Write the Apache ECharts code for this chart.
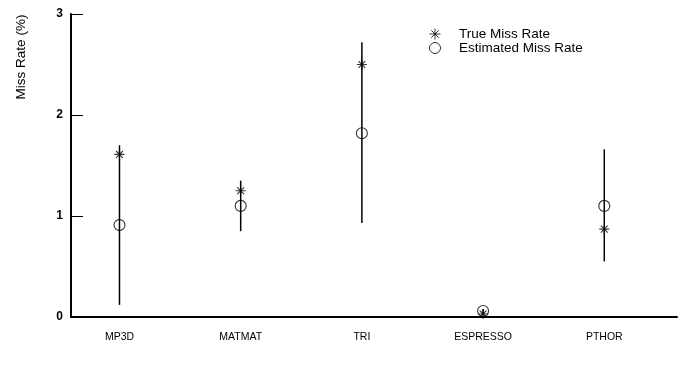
<!DOCTYPE html>
<html>
<head>
<meta charset="utf-8">
<script src="https://cdn.jsdelivr.net/npm/echarts@6/dist/echarts.min.js"></script>
<style>
  html, body { margin: 0; padding: 0; background: #fff; }
  #chart { width: 678px; height: 371px; }
</style>
</head>
<body>
<div id="chart"></div>
<script>
// Benchmarks and miss rates (%)
var categories = ['MP3D', 'MATMAT', 'TRI', 'ESPRESSO', 'PTHOR'];
var trueMissRate = [1.61, 1.25, 2.50, 0.03, 0.87];
var estimatedMissRate = [0.91, 1.10, 1.82, 0.06, 1.10];
var rangeLow = [0.12, 0.85, 0.93, 0.02, 0.55];
var rangeHigh = [1.70, 1.35, 2.72, 0.08, 1.66];
var yTicks = [0, 1, 2, 3];

var FONT = 'Liberation Sans, Arial, Helvetica, sans-serif';
var asterisk = 'path://M5,0L5,10M0,5L10,5M1.6,1.6L8.4,8.4M1.6,8.4L8.4,1.6';

function pairs(values) {
  return values.map(function (v, i) { return [i, v]; });
}

var chart = echarts.init(document.getElementById('chart'));
chart.setOption({
  animation: false,
  backgroundColor: '#fff',
  grid: { left: 71, right: 1, top: 14, bottom: 54 },
  legend: {
    orient: 'vertical',
    left: 422,
    top: 21,
    itemWidth: 26,
    itemHeight: 11,
    itemGap: -2,
    itemStyle: { borderWidth: 1 },
    textStyle: {
      fontFamily: FONT, fontSize: 13.5, color: '#000',
      padding: [0, 0, 0, 6]
    },
    data: ['True Miss Rate', 'Estimated Miss Rate']
  },
  graphic: [{
    type: 'text',
    x: 21,
    y: 57,
    rotation: Math.PI / 2,
    style: {
      text: 'Miss Rate (%)',
      font: '13.5px ' + FONT,
      fill: '#000',
      align: 'center',
      verticalAlign: 'middle'
    }
  }],
  xAxis: {
    type: 'value',
    min: -0.4,
    max: 4.6,
    splitLine: { show: false },
    axisTick: { show: false },
    axisLine: { onZero: false, lineStyle: { color: '#000', width: 2 } },
    axisLabel: {
      customValues: categories.map(function (c, i) { return i; }),
      formatter: function (v) { return categories[Math.round(v)]; },
      fontFamily: FONT,
      fontSize: 10.5,
      color: '#000',
      margin: 15
    }
  },
  yAxis: {
    type: 'value',
    min: 0,
    max: 3,
    interval: 1,
    splitLine: { show: false },
    axisLine: { show: true, onZero: false, lineStyle: { color: '#000', width: 2 } },
    axisTick: {
      show: true,
      inside: true,
      length: 12,
      customValues: yTicks,
      lineStyle: { color: '#000', width: 1 }
    },
    axisLabel: {
      customValues: yTicks,
      fontFamily: FONT,
      fontSize: 12,
      fontWeight: 'bold',
      color: '#000',
      margin: 8
    }
  },
  series: [
    {
      type: 'custom',
      name: 'range',
      z: 1,
      data: rangeLow.map(function (lo, i) { return [i, lo, rangeHigh[i]]; }),
      renderItem: function (params, api) {
        var top = api.coord([api.value(0), api.value(2)]);
        var bottom = api.coord([api.value(0), api.value(1)]);
        return {
          type: 'line',
          shape: { x1: top[0], y1: top[1], x2: bottom[0], y2: bottom[1] },
          style: { stroke: '#000', lineWidth: 1.5 }
        };
      }
    },
    {
      type: 'scatter',
      name: 'True Miss Rate',
      z: 3,
      symbol: asterisk,
      symbolSize: 10,
      itemStyle: { color: 'none', borderColor: '#000', borderWidth: 1.1 },
      data: pairs(trueMissRate)
    },
    {
      type: 'scatter',
      name: 'Estimated Miss Rate',
      z: 2,
      symbol: 'circle',
      symbolSize: 11,
      itemStyle: { color: 'none', borderColor: '#000', borderWidth: 1.1 },
      data: pairs(estimatedMissRate)
    }
  ]
});
</script>
</body>
</html>
